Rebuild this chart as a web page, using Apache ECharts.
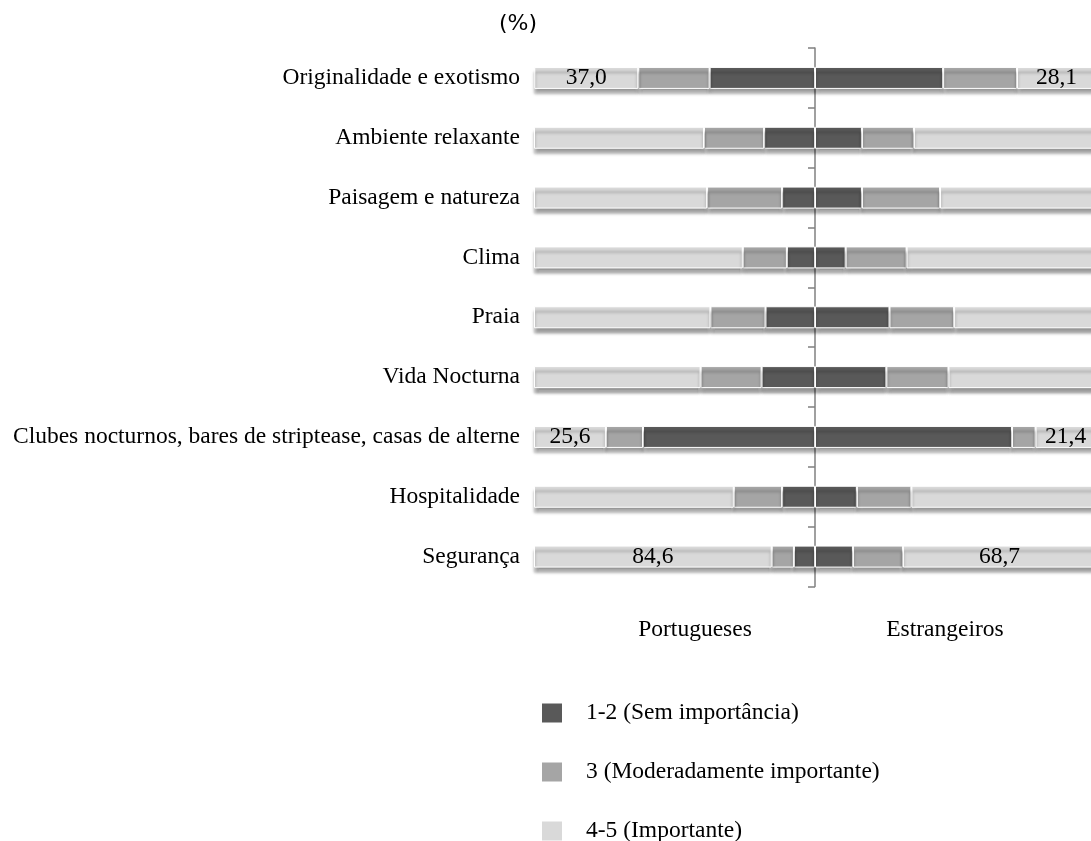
<!DOCTYPE html>
<html>
<head>
<meta charset="utf-8">
<script src="https://cdn.jsdelivr.net/npm/echarts@6/dist/echarts.min.js"></script>
<style>
html,body{margin:0;padding:0;background:#fff;}
#chart{width:1091px;height:841px;}
</style>
</head>
<body>
<div id="chart"></div>
<script>
var categories = ['Originalidade e exotismo','Ambiente relaxante','Paisagem e natureza','Clima','Praia','Vida Nocturna','Clubes nocturnos, bares de striptease, casas de alterne','Hospitalidade','Segurança'];
var legendNames = ['1-2 (Sem importância)','3 (Moderadamente importante)','4-5 (Importante)'];
var groupNames = ['Portugueses','Estrangeiros'];
// Portugueses (left side)
var ptLow  = [37.5, 18.1, 11.7, 10.0, 17.6, 19.0, 61.2, 11.7, 7.5];
var ptMid  = [25.4, 21.4, 26.7, 15.7, 19.6, 21.7, 13.2, 17.2, 7.9];
var ptHigh = [37.0, 60.5, 61.6, 74.3, 62.8, 59.3, 25.6, 71.1, 84.6];
// Estrangeiros (right side)
var estLow  = [45.6, 16.7, 16.7, 10.9, 26.5, 25.4, 70.1, 14.9, 13.5];
var estMid  = [26.3, 18.5, 27.8, 21.7, 23.0, 22.1, 8.4, 19.4, 17.8];
var estHigh = [28.1, 64.8, 55.5, 67.4, 50.5, 52.5, 21.4, 65.7, 68.7];
var labeledRows = [0, 6, 8];

var colors = ['#595959', '#a5a5a5', '#d9d9d9'];
var serif = 'Liberation Serif';
var fs = 23.5;

function fmt(v){ return Math.abs(v).toFixed(1).replace('.', ','); }

function mk(name, vals, sign, colorIdx, withLabels){
  return {
    name: name,
    type: 'bar',
    stack: 'total',
    yAxisIndex: 0,
    barWidth: 22,
    clip: false,
    itemStyle: {
      color: colors[colorIdx],
      borderColor: '#ffffff',
      borderWidth: 1,
      shadowColor: 'rgba(0,0,0,0.4)',
      shadowBlur: 3,
      shadowOffsetY: 5
    },
    label: {
      show: withLabels,
      position: 'inside',
      fontFamily: serif,
      fontSize: fs,
      color: '#000',
      formatter: function(p){ return labeledRows.indexOf(p.dataIndex) >= 0 ? fmt(p.value) : ''; }
    },
    emphasis: {disabled: true},
    data: vals.map(function(v){ return sign * v; })
  };
}

var chart = echarts.init(document.getElementById('chart'), null, {renderer: 'canvas'});
chart.setOption({
  animation: false,
  backgroundColor: '#ffffff',
  grid: {left: 534, width: 562, top: 48, height: 538.5, containLabel: false, outerBoundsMode: 'none'},
  xAxis: {
    type: 'value', min: -100, max: 100, show: false
  },
  yAxis: [
    {
      type: 'category', data: categories, inverse: true, position: 'left',
      axisLine: {show: false, onZero: false}, axisTick: {show: false},
      axisLabel: {fontFamily: serif, fontSize: fs, color: '#000', margin: 14}
    },
    {
      type: 'category', data: categories, inverse: true, position: 'left',
      axisLine: {show: true, onZero: true, lineStyle: {color: '#808080', width: 1.5}},
      axisTick: {show: true, inside: false, length: 7, lineStyle: {color: '#808080', width: 1.5}},
      axisLabel: {show: false}
    }
  ],
  legend: {
    data: legendNames,
    orient: 'vertical',
    left: 540, top: 701, height: 200,
    itemWidth: 22, itemHeight: 21, itemGap: 35,
    icon: 'rect',
    padding: 0,
    selectedMode: false,
    textStyle: {fontFamily: serif, fontSize: fs, color: '#000', padding: [0, 0, 0, 18]}
  },
  graphic: [
    {type: 'text', x: 518, y: 24, style: {text: '(%)', fontFamily: 'DejaVu Sans', fontSize: 22, fill: '#000', textAlign: 'center', textVerticalAlign: 'middle'}},
    {type: 'text', x: 695, y: 630, style: {text: groupNames[0], fontFamily: serif, fontSize: fs, fill: '#000', textAlign: 'center', textVerticalAlign: 'middle'}},
    {type: 'text', x: 945, y: 630, style: {text: groupNames[1], fontFamily: serif, fontSize: fs, fill: '#000', textAlign: 'center', textVerticalAlign: 'middle'}}
  ],
  series: [
    mk(legendNames[0], ptLow, -1, 0, false),
    mk(legendNames[1], ptMid, -1, 1, false),
    mk(legendNames[2], ptHigh, -1, 2, true),
    mk(legendNames[0], estLow, 1, 0, false),
    mk(legendNames[1], estMid, 1, 1, false),
    mk(legendNames[2], estHigh, 1, 2, true)
  ]
});
</script>
</body>
</html>
